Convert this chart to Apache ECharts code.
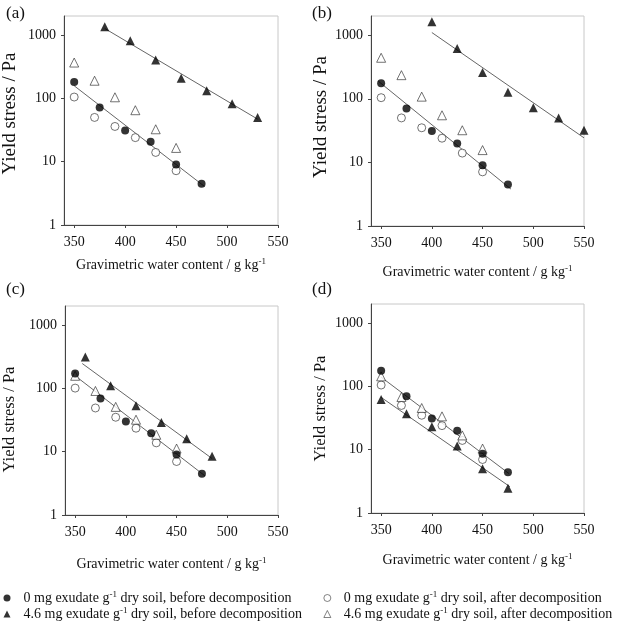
<!DOCTYPE html>
<html><head><meta charset="utf-8">
<script src="https://cdn.jsdelivr.net/npm/echarts@6/dist/echarts.min.js"></script>
<style>html,body{margin:0;padding:0;background:#fff}#c{width:630px;height:626px}</style>
</head><body><div id="c"></div>
<script>
// ---- data ----
const xTicks = [350, 400, 450, 500, 550];
const yTicks = [1, 10, 100, 1000];
const xCircle = [350, 375, 400, 425, 450, 475];
const xOpen = [350, 370, 390, 410, 430, 450];

const aFilledCircle = [181, 72, 31, 20.6, 9, 4.5];
const aOpenCircle = [105, 50, 36, 24, 14, 7.2];
const aTriX = [380, 405, 430, 455, 480, 505, 530];
const aFilledTri = [1350, 815, 405, 207, 132, 82, 50];
const aOpenTri = [368, 190, 104, 65, 32.5, 16.5];
const aFitX1 = [350, 478], aFitY1 = [158, 4.05];
const aFitX2 = [380, 530], aFitY2 = [1270, 47];

const bFilledCircle = [176, 70, 31, 19.8, 9, 4.5];
const bOpenCircle = [104, 50, 35, 24, 14, 7.1];
const bTriX = [400, 425, 450, 475, 500, 525, 550];
const bFilledTri = [1620, 615, 259, 127, 72, 50, 32];
const bOpenTri = [441, 235, 108, 55, 32, 15.6];
const bFitX1 = [347, 478], bFitY1 = [190, 3.8];
const bFitX2 = [400, 550], bFitY2 = [1100, 24.3];

const cFilledCircle = [172, 69, 30, 19.6, 9, 4.5];
const cOpenCircle = [101, 49, 35, 23.5, 13.8, 7];
const cTriX = [360, 385, 410, 435, 460, 485];
const cFilledTri = [314, 110, 53, 29, 16, 8.5];
const cOpenTri = [158, 91, 51, 32, 18.5, 11.2];
const cFitX1 = [350, 478], cFitY1 = [158, 4.15];
const cFitX2 = [357, 485], cFitY2 = [247, 7.8];

const dFilledCircle = [176, 70, 31, 20, 8.6, 4.4];
const dOpenCircle = [105, 50, 35, 24, 14, 7];
const dTriX = [350, 375, 400, 425, 450, 475];
const dFilledTri = [62, 37, 23, 11.4, 5, 2.45];
const dOpenTri = [144, 68, 45.5, 33.6, 16.8, 10.4];
const dFitX1 = [350, 476], dFitY1 = [140, 4.2];
const dFitX2 = [350, 477], dFitY2 = [67, 2.6];

const names = [
  '0 mg exudate g-1 dry soil, before decomposition',
  '0 mg exudate g-1 dry soil, after decomposition',
  '4.6 mg exudate g-1 dry soil, before decomposition',
  '4.6 mg exudate g-1 dry soil, after decomposition'
];
const panelLabels = ['(a)', '(b)', '(c)', '(d)'];
const yTitle = 'Yield stress / Pa';
const xTitle = 'Gravimetric water content / g kg{sup|-1}';

// ---- layout / styles ----
const FONT = 'Liberation Serif';
const grids = [
  {left: 64, top: 16, width: 214, height: 209},
  {left: 371, top: 16, width: 213, height: 210},
  {left: 64, top: 306, width: 214, height: 209},
  {left: 371, top: 304, width: 213, height: 209}
];
const xNameGaps = [32, 38, 41, 39];
const yNameStyle = [
  {gap: 44, size: 19, pad: [0, 0, 0, 14]},
  {gap: 40, size: 19, pad: [0, 0, 0, 8]},
  {gap: 47, size: 16.5, pad: [0, 18, 0, 0]},
  {gap: 42, size: 16.5, pad: [0, 0, 0, 0]}
];
const zip = (xs, ys) => xs.map((x, i) => [x, ys[i]]);

const panels = [
  {fc: zip(xCircle, aFilledCircle), oc: zip(xOpen, aOpenCircle), ft: zip(aTriX, aFilledTri), ot: zip(xOpen, aOpenTri), fits: [zip(aFitX1, aFitY1), zip(aFitX2, aFitY2)]},
  {fc: zip(xCircle, bFilledCircle), oc: zip(xOpen, bOpenCircle), ft: zip(bTriX, bFilledTri), ot: zip(xOpen, bOpenTri), fits: [zip(bFitX1, bFitY1), zip(bFitX2, bFitY2)]},
  {fc: zip(xCircle, cFilledCircle), oc: zip(xOpen, cOpenCircle), ft: zip(cTriX, cFilledTri), ot: zip(xOpen, cOpenTri), fits: [zip(cFitX1, cFitY1), zip(cFitX2, cFitY2)]},
  {fc: zip(xCircle, dFilledCircle), oc: zip(xOpen, dOpenCircle), ft: zip(dTriX, dFilledTri), ot: zip(xOpen, dOpenTri), fits: [zip(dFitX1, dFitY1), zip(dFitX2, dFitY2)]}
];

const supRich = {sup: {fontSize: 9, fontFamily: FONT, color: '#111', verticalAlign: 'top', lineHeight: 16}};

const xAxes = grids.map((g, i) => ({
  type: 'value', gridIndex: i, min: 340, max: 550,
  axisLine: {show: true, lineStyle: {color: '#444', width: 1}},
  axisTick: {show: true, length: 3, lineStyle: {color: '#444'}, customValues: xTicks},
  axisLabel: {fontFamily: FONT, fontSize: 14, color: '#111', margin: 10, customValues: xTicks},
  splitLine: {show: false},
  name: xTitle, nameLocation: 'middle', nameGap: xNameGaps[i],
  nameTextStyle: {fontFamily: FONT, fontSize: 14, color: '#111', lineHeight: 16, rich: supRich}
}));
const yAxes = grids.map((g, i) => ({
  type: 'log', logBase: 10, gridIndex: i, min: 1, max: 2000,
  axisLine: {show: true, lineStyle: {color: '#444', width: 1}},
  axisTick: {show: true, length: 3, lineStyle: {color: '#444'}, customValues: yTicks},
  axisLabel: {fontFamily: FONT, fontSize: 14, color: '#111', margin: 8, customValues: yTicks,
    formatter: v => String(Math.round(v))},
  splitLine: {show: false}, minorTick: {show: false},
  name: yTitle, nameLocation: 'middle', nameGap: yNameStyle[i].gap, nameRotate: 90,
  nameTextStyle: {fontFamily: FONT, fontSize: yNameStyle[i].size, color: '#111', padding: yNameStyle[i].pad}
}));

const markerStyles = [
  {symbol: 'circle', symbolSize: 8, itemStyle: {color: '#000'}, z: 3},
  {symbol: 'circle', symbolSize: 8, itemStyle: {color: '#fff', borderColor: '#222', borderWidth: 0.8}, z: 2},
  {symbol: 'triangle', symbolSize: 9, itemStyle: {color: '#000'}, z: 3},
  {symbol: 'triangle', symbolSize: 9, itemStyle: {color: '#fff', borderColor: '#222', borderWidth: 0.8}, z: 2}
];

const series = [];
panels.forEach((p, i) => {
  p.fits.forEach(f => series.push({
    type: 'line', name: 'fit', xAxisIndex: i, yAxisIndex: i, data: f,
    showSymbol: false, symbol: 'none', lineStyle: {color: '#666', width: 1}, z: 1, silent: true
  }));
  [p.fc, p.oc, p.ft, p.ot].forEach((d, k) => series.push(Object.assign({
    type: 'scatter', name: names[k], xAxisIndex: i, yAxisIndex: i, data: d
  }, markerStyles[k])));
});

const legendPos = [
  {left: 3.5, top: 590}, {left: 323.5, top: 590},
  {left: 3.5, top: 606}, {left: 323.5, top: 606}
];
const legends = legendPos.map((p, k) => ({
  orient: 'horizontal', left: p.left, top: p.top, itemWidth: 7, itemHeight: 7, itemGap: 0,
  padding: 0, data: [names[k]],
  itemStyle: {borderWidth: 0.7},
  formatter: n => n.replace('g-1', 'g{sup|-1}'),
  textStyle: {fontFamily: FONT, fontSize: 14, color: '#111', padding: [0, 0, 0, 8], lineHeight: 16, rich: supRich}
}));

const option = {
  animation: false,
  backgroundColor: '#fff',
  title: panelLabels.map((t, i) => ({
    text: t, left: i % 2 === 0 ? 1 : 307, top: i < 2 ? 0 : 276,
    textStyle: {fontFamily: FONT, fontSize: 17, fontWeight: 'normal', color: '#111'}
  })),
  grid: grids.map(g => Object.assign({show: true, borderColor: '#c8c8c8', borderWidth: 1, backgroundColor: 'transparent'}, g)),
  xAxis: xAxes,
  yAxis: yAxes,
  legend: legends,
  series: series
};

const chart = echarts.init(document.getElementById('c'), null, {renderer: 'canvas'});
chart.setOption(option);
</script>
</body></html>
